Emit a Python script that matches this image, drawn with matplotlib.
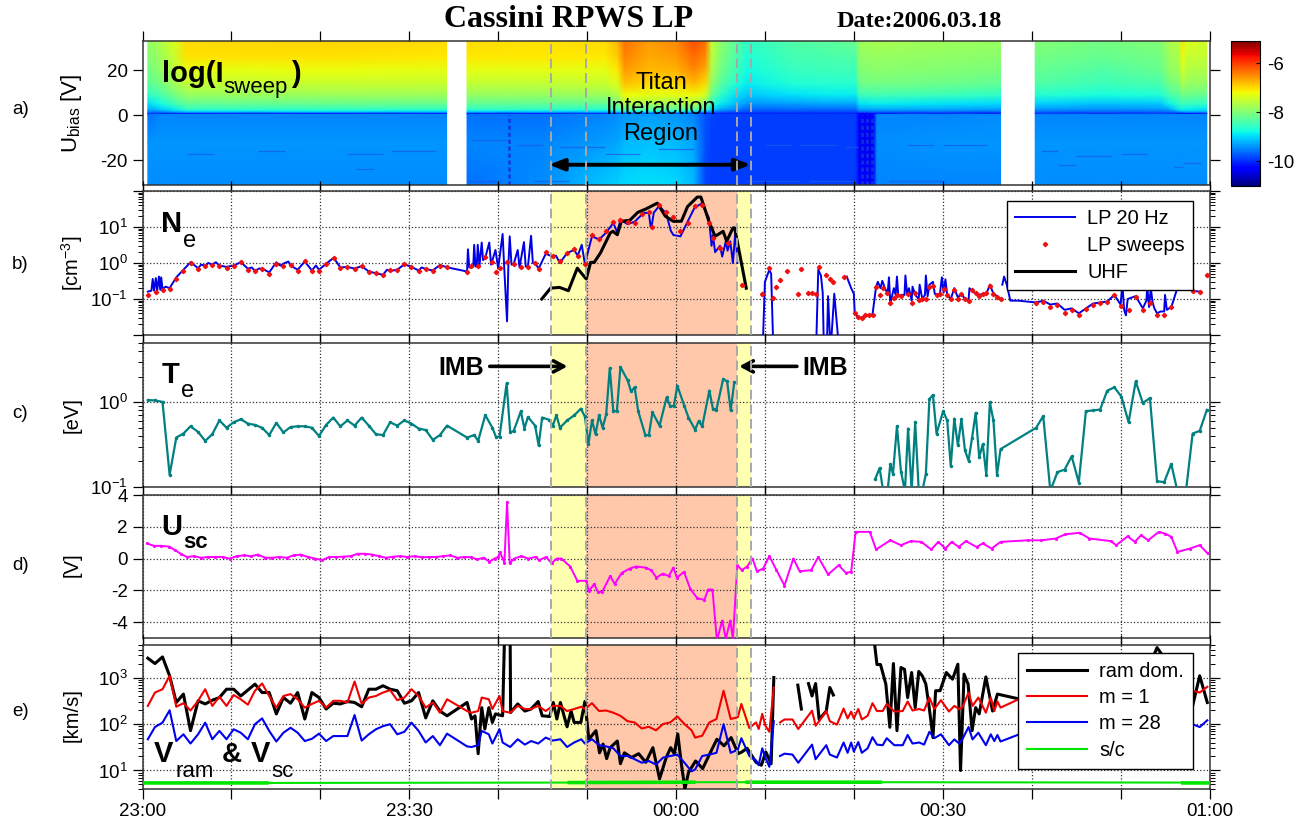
import matplotlib
matplotlib.use("Agg")
import matplotlib.pyplot as plt
import numpy as np
from matplotlib.ticker import FixedLocator, NullFormatter

plt.rcParams["font.family"] = ["Liberation Sans", "DejaVu Sans"]
plt.rcParams["mathtext.default"] = "regular"

W, H = 1308, 827
nan = np.nan

# time axis, minutes after 23:00
tick_minutes = [0, 30, 60, 90, 120]
tick_labels = ["23:00", "23:30", "00:00", "00:30", "01:00"]
boundaries = [45.9, 49.9, 66.9, 68.4]

# a) sweep current, log10(I), columns by time, rows by bias voltage
bias_rows = [33, 26, 20, 14, 9, 5, 2.5, 1.6, 1.1, 0.7, 0.3, -12, -31]
seg1_t = [0.6, 2.0, 3.5, 5, 20, 34.2]
seg1_i = [
    [-7.9, -7.7, -7.4, -7.0, -6.95, -7.0],
    [-8.0, -7.8, -7.5, -7.05, -7.05, -7.1],
    [-8.1, -7.9, -7.6, -7.3, -7.25, -7.3],
    [-8.3, -8.1, -7.8, -7.55, -7.5, -7.5],
    [-8.6, -8.4, -8.1, -7.85, -7.8, -7.8],
    [-9.0, -8.8, -8.5, -8.25, -8.2, -8.2],
    [-9.3, -9.1, -8.9, -8.6, -8.6, -8.6],
    [-9.5, -9.4, -9.2, -9.0, -8.9, -8.95],
    [-9.6, -9.6, -9.5, -9.4, -9.4, -9.4],
    [-10.0, -10.1, -10.1, -10.1, -10.1, -10.1],
    [-9.6, -9.5, -9.5, -9.5, -9.5, -9.5],
    [-9.4, -9.4, -9.4, -9.4, -9.4, -9.4],
    [-9.45, -9.45, -9.45, -9.45, -9.45, -9.45],
]
seg2_t = [36.5, 45, 52, 53.4, 54.2, 57, 60, 62, 63.3, 64, 65, 66.8, 68, 73, 77, 80.2, 80.6, 82.2, 82.6, 90, 96.5]
seg2_i = [
    [-7.0, -7.05, -7.0, -6.8, -6.35, -6.6, -6.5, -6.1, -6.3, -7.5, -7.9, -8.3, -8.6, -8.35, -8.3, -8.2, -7.8, -7.75, -7.75, -7.8, -7.85],
    [-7.1, -7.1, -7.1, -6.9, -6.45, -6.7, -6.6, -6.3, -6.5, -7.6, -8.0, -8.4, -8.7, -8.45, -8.4, -8.35, -7.9, -7.85, -7.85, -7.9, -7.95],
    [-7.3, -7.3, -7.3, -7.1, -6.6, -6.8, -6.75, -6.5, -6.7, -7.7, -8.1, -8.5, -8.8, -8.55, -8.5, -8.5, -8.0, -7.95, -7.95, -8.0, -8.05],
    [-7.55, -7.55, -7.5, -7.35, -6.85, -7.0, -7.0, -6.8, -7.0, -7.9, -8.3, -8.7, -8.9, -8.7, -8.65, -8.65, -8.15, -8.1, -8.1, -8.15, -8.25],
    [-7.85, -7.85, -7.8, -7.7, -7.2, -7.3, -7.3, -7.2, -7.4, -8.2, -8.6, -8.95, -9.1, -8.95, -8.9, -8.9, -8.5, -8.45, -8.45, -8.5, -8.6],
    [-8.25, -8.25, -8.25, -8.1, -7.7, -7.75, -7.8, -7.7, -8.0, -8.6, -8.9, -9.2, -9.4, -9.35, -9.3, -9.3, -8.95, -8.9, -8.9, -8.95, -9.0],
    [-8.6, -8.6, -8.65, -8.5, -8.3, -8.3, -8.3, -8.3, -8.6, -9.0, -9.3, -9.5, -9.7, -9.65, -9.65, -9.65, -9.35, -9.3, -9.3, -9.3, -9.35],
    [-8.95, -9.0, -9.0, -8.9, -8.8, -8.8, -8.8, -8.9, -9.1, -9.4, -9.6, -9.7, -9.8, -9.8, -9.8, -9.8, -9.6, -9.55, -9.55, -9.55, -9.6],
    [-9.4, -9.4, -9.4, -9.4, -9.3, -9.3, -9.3, -9.4, -9.6, -9.7, -9.8, -9.85, -9.9, -9.9, -9.9, -9.9, -9.85, -9.8, -9.8, -9.8, -9.85],
    [-10.1, -10.1, -10.0, -10, -9.9, -9.8, -9.9, -10, -10.2, -10.1, -10.1, -10.1, -10.1, -10.1, -10.1, -10.1, -10.3, -10.2, -10.2, -10.1, -10.2],
    [-9.6, -9.6, -9.5, -9.45, -9.4, -9.35, -9.4, -9.5, -9.8, -9.85, -9.9, -9.9, -9.9, -9.9, -9.9, -9.9, -10.3, -10.3, -9.5, -9.5, -9.45],
    [-9.5, -9.5, -9.35, -9.3, -9.2, -9.15, -9.2, -9.3, -9.8, -9.9, -9.9, -9.9, -9.9, -9.9, -9.9, -9.9, -10.4, -10.4, -9.45, -9.4, -9.4],
    [-9.6, -9.45, -9.1, -9.05, -9.0, -8.95, -9.0, -9.2, -9.85, -9.9, -9.9, -9.9, -9.9, -9.9, -9.9, -9.9, -10.3, -10.3, -9.5, -9.5, -9.5],
]
seg3_t = [100.4, 108, 114.5, 115.5, 116.6, 117, 117.4, 119.7]
seg3_i = [
    [-8.0, -8.1, -8.0, -7.7, -7.6, -7.05, -7.35, -7.45],
    [-8.1, -8.2, -8.1, -7.8, -7.7, -7.2, -7.5, -7.55],
    [-8.2, -8.35, -8.2, -7.9, -7.8, -7.4, -7.65, -7.7],
    [-8.35, -8.5, -8.4, -8.1, -8.0, -7.7, -7.85, -7.9],
    [-8.65, -8.75, -8.7, -8.4, -8.3, -8.1, -8.15, -8.2],
    [-9.05, -9.15, -9.1, -8.85, -8.6, -8.5, -8.55, -8.6],
    [-9.4, -9.45, -9.4, -9.3, -8.9, -8.85, -8.9, -8.95],
    [-9.6, -9.6, -9.6, -9.55, -9.3, -9.2, -9.2, -9.2],
    [-9.75, -9.8, -9.75, -9.75, -9.6, -9.5, -9.5, -9.5],
    [-10.0, -10.1, -10, -10, -10.2, -10.3, -10.3, -10.2],
    [-9.5, -9.5, -9.5, -9.5, -9.5, -9.5, -9.5, -9.5],
    [-9.4, -9.4, -9.4, -9.4, -9.4, -9.4, -9.4, -9.4],
    [-9.45, -9.45, -9.45, -9.45, -9.45, -9.45, -9.45, -9.45],
]
streak_t0 = [5, 13, 23, 28, 24, 37, 42, 47, 52, 58, 70, 74, 79, 86, 90, 36.5, 44, 68, 75, 84, 101, 105, 110, 103, 116, 117]
streak_t1 = [8, 16, 27, 33, 26, 41, 45, 52, 56, 62, 73, 78, 80.5, 89, 95, 40, 48, 74, 80, 90, 103, 109, 113, 105, 117, 119]
streak_u = [-17, -16, -17, -16, -24, -11, -13, -14, -17, -15, -13, -13, -14, -13, -13, -29, -29, -29, -29, -29, -16, -18, -17, -22, -23, -21]
dark_bar_t = [41.2, 80.9, 81.5, 82.0]

# b) electron density
sweep_t = [0.6, 1.5, 2.25, 3.05, 3.8, 4.6, 5.4, 6.25, 7.05, 7.85, 8.65, 9.45, 10.25, 11.05, 11.85, 12.65, 13.45, 14.25, 15.05, 15.85, 16.65, 17.45, 18.25, 19.05, 19.85, 20.65, 21.5, 22.25, 23.05, 23.85, 24.65, 25.45, 26.25, 27.05, 27.85, 28.65, 29.45, 30.25, 31.05, 31.85, 32.65, 33.45, 34.25, 36.5, 37, 37.75, 38.55, 39.35, 39.75, 40.15, 40.95, 41.75, 42.55, 43.35, 44.15, 44.55, 45.35, 46.15, 46.95, 47.75, 48.55, 48.95, 49.75, 50.55, 51.35, 52.15, 52.95, 53.75, 54.55, 55.35, 56.15, 56.95, 57.3, 58.1, 58.9, 59.7, 60.5, 61.3, 62.1, 62.9, 63.7, 64.15, 64.95, 65.8, 67.4,
           69.7, 70.5, 70.9, 71.3, 71.7, 72.5, 73.7, 74.1, 74.9, 75.3, 75.7, 76.1, 76.9, 77.3, 77.7, 78.9, 80.1, 80.5, 80.9, 81.3, 81.7, 82.1, 82.5, 82.9, 83.3, 83.7, 84.1, 84.5, 84.9, 85.3, 86.1, 86.5, 86.9, 87.3, 87.7, 88.1, 88.5, 88.9, 89.3, 89.7, 90.1, 90.5, 90.9, 91.3, 91.7, 92.1, 92.5, 92.9, 93.3, 93.7, 94.1, 94.5, 94.9, 95.3, 95.7, 96.1, 96.5,
           100.5, 101.3, 102.1, 102.9, 103.7, 104.5, 105.3, 106.1, 106.9, 107.7, 108.5, 109.3, 110.1, 110.9, 111.7, 112.5, 113.3, 114.1, 114.9, 115.7, 118.1, 118.9, 119.7]
sweep_n = [.13, .16, .18, .19, .36, .61, 1.02, .68, .82, .86, .81, .71, .81, 1.04, .65, .59, .67, .49, .94, .84, .88, .61, 1.11, .61, .61, .92, 1.35, .73, .77, .68, .81, .56, .52, .47, .64, .64, .92, .76, .61, .69, .61, .84, .76, .57, .84, .84, 1.43, 1.04, .55, .73, 1.04, .92, .79, .79, 1.0, .69, 2.06, 1.6, 1.11, 1.9, 2.5, 1.6, .96, 6.1, 4.6, 7.6, 13.8, 15.3, 13.8, 13, 23.5, 25.5, 9.8, 41.8, 25.5, 18.6, 7.6, 13, 39, 41.8, 13, 4.9, 2.6, 3.6, .25,
           .135, .72, .11, .21, .33, .6, .135, .69, .143, .143, .135, .77, .47, .36, .29, .41, .04, .031, .03, .035, .036, .037, .22, .13, .2, .15, .075, .105, .13, .12, .135, .075, .15, .092, .1, .1, .22, .23, .13, .135, .19, .13, .1, .175, .1, .135, .1, .09, .175, .145, .125, .135, .145, .23, .135, .115, .1,
           .075, .085, .06, .07, .042, .05, .035, .052, .07, .075, .08, .13, .062, .05, .115, .05, .075, .035, .037, .06, .17, .16, .46]
lp20_t = [0.6, 1.0, 1.15, 1.3, 1.5, 1.65, 1.85, 2.0, 2.1, 2.25, 2.6, 3.05, 3.8, 4.6, 5.4, 6.25, 6.6, 7.05, 7.4, 7.85, 8.25, 8.65, 9.45, 10.25, 11.05, 11.85, 12.3, 12.65, 13.1, 13.45, 14.25, 15.05, 15.5, 16.0, 16.4, 16.65, 17.45, 18.25, 19.05, 19.5, 19.85, 20.65, 21.5, 22.25, 23.05, 23.85, 24.65, 25.45, 26.25, 27.05, 27.5, 27.85, 28.65, 29.45, 30.25, 31.05, 31.4, 31.85, 32.65, 33.45, 34.25,
          36.5, 36.6, 36.75, 37.2, 37.3, 37.45, 37.6, 37.7, 37.9, 38.15, 38.3, 38.55, 39, 39.2, 39.7, 40, 40.5, 40.7, 41, 41.15, 41.3, 41.5, 41.75, 42.2, 42.4, 42.9, 43.1, 43.35, 43.7, 43.9, 44.15, 44.55, 45.35, 46.15, 46.5, 46.95, 47.75, 48.55, 48.95, 49.4, 49.75, 50.55, 51.35, 52.15, 52.95, 53.4, 53.75, 54.55, 55.35, 56.15, 56.5, 56.95, 57.15, 57.3, 57.5, 58.1, 58.9, 59.4, 59.7, 60.5, 61.3, 62.1, 62.9, 63.7, 64.0, 64.15, 64.4, 64.95, 65.2, 65.6, 65.8, 66.1, 66.4, 66.7, 66.9, nan,
          69.8, 70, 70.5, 70.7, 70.9, nan, 75.8, 76, 76.3, 76.5, 76.6, nan, 77, 77.1, 77.3, nan, 77.5, 77.8, 78.2, nan,
          79.2, 79.7, 80, 80.1, 80.5, 80.9, 81.3, 81.7, 82.1, 82.5, 82.7, 83, 83.2, 83.5, 83.8, 83.95, 84.1, 84.5, 84.7, 84.85, 85, 85.3, 85.7, 85.8, 86.0, 86.2, 86.5, 86.6, 86.9, 87.3, 87.4, 87.7, 88, 88.1, 88.3, 88.5, 88.9, 89.1, 89.5, 89.7, 89.9, 90.1, 90.3, 90.5, 90.9, 91.3, 91.7, 92.1, 92.5, 92.9, 93, 93.3, 93.7, 94.1, 94.5, 94.9, 95.3, 95.7, 96.1, 96.5, nan,
          96.7, 96.9, 97.2, 97.6, 98.5, 99.5, 100.5, 101.3, 102.1, 102.9, 103.7, 104.5, 105.3, 106.1, 106.9, 107.7, 108.5, 109.3, 110, 110.2, 110.4, 110.6, 110.8, 111.7, 112.5, 112.9, 113, 113.2, 113.4, 113.6, 113.8, 114.1, 114.5, 114.9, 115, 115.2, 115.7, 116, 116.5, 117, 117.8, 118.1, 118.9]
lp20_n = [.16, .17, .36, .17, .38, .17, .42, .18, .4, .19, .22, .2, .4, .65, 1.05, .72, .9, .85, 1.0, .9, 1.05, .85, .78, .85, 1.05, .7, .75, .6, .7, .7, .55, 1.05, .85, 1.0, 1.1, .85, .65, 1.1, .62, .85, .65, .95, 1.4, .75, .78, .7, .82, .58, .52, .47, .65, .6, .65, .92, .78, .62, .75, .68, .62, .88, .76,
          .58, 2.4, .75, .8, 3.2, .8, .8, 3.2, .85, 3.7, 1.2, 1.4, 3.7, .9, 2.3, .7, 6.4, .6, .024, .9, 5.5, .9, .95, 2.3, .75, 3.8, .8, .8, 5.7, 1.0, 1.0, .7, 1.8, 1.5, 1.6, 1.0, 1.9, 2.3, 1.6, 3.2, .95, 5.5, 4.5, 7, 13, 7, 16, 12, 14, 22, 25, 24, 10, 12, 25, 38, 24, 8, 6, 5.5, 14, 35, 45, 18, 3, 6, 2, 3, 1.5, 4, 2.2, 4, 1, 9, 1, nan,
          .01, .3, .65, .5, .01, nan, .01, .65, .45, .15, .01, nan, .01, .12, .01, nan, .01, .14, .01, nan,
          .42, .2, .14, .04, .031, .03, .035, .036, .037, .22, .3, .2, .32, .2, .14, .4, .075, .2, .13, .42, .12, .13, .13, .45, .13, .2, .09, .22, .13, .1, .25, .1, .13, .45, .12, .25, .3, .14, .13, .15, .4, .15, .35, .13, .1, .2, .11, .14, .1, .09, .2, .17, .14, .13, .14, .14, .25, .14, .12, .1, nan,
          .25, .42, .25, .09, .09, .085, .08, .09, .07, .075, .05, .055, .04, .055, .075, .08, .085, .13, .07, .25, .05, .035, .1, .12, .055, .09, .22, .06, .2, .08, .055, .04, .045, .045, .13, .05, .06, .1, .25, .4, .22, .17, .16]
uhf_t = [44.9, 45.9, 46.9, 47.9, 48.9, 49.9, 50.4, 50.8, 51.5, 52.6, 52.9, 53.4, 53.85, 54.8, 55.7, 56.6, 57.9, 58.8, 59.7, 60.6, 61.3, 62.4, 62.8, 63.7, 64.4, 65.3, 65.7, 66.4, 66.6, 67.9]
uhf_n = [.1, .2, .21, .17, .72, .36, 1.04, 1.04, 1.9, 6.8, 7.6, 6.1, 14.4, 15.3, 25.5, 31.6, 46, 20, 14.4, 14.4, 37, 68, 68, 14.4, 5.5, 7.6, 4, 9.4, 9.4, .2]

# c) electron temperature
te_t = [0.6, 1.4, 2.25, 3.05, 3.8, 4.6, 5.4, 6.25, 7.05, 7.85, 8.65, 9.45, 10.25, 11.05, 11.85, 12.65, 13.45, 14.25, 15.05, 15.85, 16.65, 17.45, 18.25, 19.05, 19.85, 20.65, 21.45, 22.25, 23.05, 23.85, 24.65, 25.45, 26.25, 27.05, 27.85, 28.65, 29.45, 30.25, 31.05, 31.85, 32.65, 33.45, 34.25, 36.5, 37.3, 37.75, 38.55, 39.35, 39.75, 40.15, 40.95, 41.35, 41.75, 42.55, 42.95, 43.35, 44.15, 44.55, 44.95, 45.75, 46.15, 46.55, 46.95, 47.75, 48.55, 49.3, 49.75, 50.15, 50.55, 50.95, 51.35, 51.75, 52.15, 52.55, 52.95, 53.35, 53.75, 54.55, 54.95, 55.35, 55.75, 56.55, 56.95, 57.35, 58.15, 58.95, 59.35, 59.75, 60.15, 60.95, 61.4, 62.15, 62.55, 62.95, 63.75, 64.15, 64.55, 65.3, 65.75, 66.15, 66.55,
        nan, 82.4, 82.9, 83.3, 83.8, 84.1, 84.4, 84.85, 85.3, 85.75, 86.1, 86.5, 86.9, 87.3, 87.7, 88.1, 88.5, 88.9, 89.3, 90.05, 90.5, 90.9, 91.3, 91.7, 92.1, 92.5, 92.9, 93.3, 93.7, 94.1, 94.5, 94.9, 95.3, 95.7, 96.1, 96.5, 100.5, 101.3, 102.1, 102.9, 103.7, 104.5, 105.3, 106.1, 106.9, 107.7, 108.5, 109.3, 110.1, 110.9, 111.7, 112.5, 113.3, 114.1, 114.9, 115.7, 116.5, 117.3, 118.1, 118.9, 119.7]
te_ev = [1.06, 1.05, 1.01, .139, .383, .427, .52, .447, .35, .42, .61, .50, .58, .63, .56, .54, .50, .41, .57, .44, .51, .52, .52, .50, .40, .54, .66, .52, .61, .53, .66, .53, .42, .41, .58, .53, .61, .56, .49, .47, .36, .41, .53, .383, .41, .35, .705, .50, .39, .39, 1.67, .44, .46, .78, .49, .67, .53, .31, .66, .62, .53, .705, .50, .61, .70, .84, .68, .32, .61, .42, .70, .50, .72, 2.52, .785, .785, 2.61, 1.82, 1.34, 1.5, .785, .41, .41, .76, .53, 1.14, .90, .90, 1.56, .90, .66, .475, .60, .52, 1.37, .84, .82, 1.87, 1.76, .80, 1.71,
         nan, .124, .167, .09, .09, .186, .143, .52, .152, .09, .49, .09, .58, .09, .09, .142, 1.09, 1.22, .427, .785, .61, .177, .64, .31, .63, .27, .205, .383, .75, .224, .32, .139, 1.0, .61, .139, .28, .50, .686, .09, .15, .16, .23, .113, .785, .80, .82, 1.37, 1.5, 1.16, .58, 1.76, .98, 1.12, .117, .114, .187, .08, .08, .427, .46, .81]

# d) spacecraft potential
usc_t = [0.5, 1.3, 2.1, 3, 3.6, 4.3, 5, 5.8, 6.6, 7.4, 8.2, 9, 9.8, 10.6, 11.4, 12.2, 13, 13.8, 14.6, 15.4, 16.2, 17, 17.8, 18.6, 19.4, 20.2, 21, 21.8, 22.6, 23.4, 24.2, 25, 25.8, 26.6, 27.4, 28.2, 29, 29.8, 30.6, 31.4, 32.2, 33, 33.8, 34.6, 35.4, 36.2, 37, 37.6, 38.4, 39, 39.6, 40, 40.2, 40.7, 41, 41.3, 41.8, 42.6, 43.4, 44.2, 44.6, 45.4, 46, 46.6, 47.1, 48.1, 48.9, 49.9, 50.2, 50.8, 51.2, 51.7, 52.6, 53.1, 53.9, 54.8, 55.5, 56.6, 57.2, 57.8, 58.5, 59.2, 59.7, 60.1, 60.9, 61.6, 62.4, 63.2, 63.6, 64.1, 64.6, 65.2, 65.6, 66.1, 66.4, 66.9, 67.4, 68, 68.6, 69.1, 69.8, 70.5, 71.3, 72.2, 73.2, 73.9, 75.2, 76, 77.1, 78.3, 79.1, 79.7, 80.2, 81.8, 82.5, 84.1, 85.3, 86.4, 87.6, 88.7, 89.5, 90.3, 91, 91.8, 92.6, 93.8, 94.5, 95.5, 96.5, 99.6, 101.1, 102.7, 103.8, 105.4, 106.5, 108.9, 109.5, 110.8, 111.6, 112.3, 113.1, 114.3, 115, 115.7, 116.4, 117.8, 118.9, 119.8]
usc_v = [.95, .8, .8, .75, .55, .3, .1, .15, .05, .1, .1, .1, 0, .15, .2, .15, .25, .05, .05, .1, .05, .2, .25, .1, 0, -.1, .1, .1, .12, .15, .3, .3, .25, .15, .05, .12, .15, .1, .15, .08, .1, .1, .15, .2, .05, .1, .08, -.05, .05, -.2, 0, .1, .4, -.25, 3.55, -.3, 0, .15, 0, .1, -.1, .1, -.3, 0, 0, -.5, -1.4, -1.4, -2.05, -1.6, -2.1, -2.1, -1.1, -1.6, -.9, -.63, -.5, -.57, -.73, -1.2, -.95, -1.1, -.57, -1.2, -.84, -1.9, -2.5, -2.6, -1.95, -1.95, -5.15, -3.9, -5.05, -3.9, -5.05, -.42, -.73, -.5, 0, -.8, -.63, .15, -.73, -1.7, 0, -.8, -.73, .1, -1, -.42, -.9, -.84, 1.68, 1.68, .57, 1.15, .84, 1.1, 1.05, .57, 1.05, .63, 1.05, .73, 1.1, .73, .95, .63, 1.05, 1.15, 1.15, 1.26, 1.53, 1.62, 1.26, 1.1, .84, 1.4, 1.05, 1.47, 1.15, 1.68, 1.57, 1.37, .42, .63, .84, .32]

# e) ram speeds
ram_t = [0.6, 1.4, 2.25, 3.05, 3.8, 4.6, 5.4, 6.25, 7.05, 7.85, 8.65, 9.45, 10.25, 11.05, 11.85, 12.65, 13.45, 14.25, 15.05, 15.85, 16.65, 17.45, 18.25, 19.05, 19.85, 20.65, 21.45, 22.25, 23.05, 23.85, 24.65, 25.45, 26.25, 27.05, 27.85, 28.65, 29.45, 30.25, 31.05, 31.85, 32.65, 33.45, 34.25, 36.5, 37, 37.4, 37.75, 38.15, 38.5, 38.95, 39.35, 39.7, 40.5, 40.7, 41.35, 41.4, 42.2, 43, 43.7, 44.5, 44.95, 45.8, 46.2, 46.6, 47, 47.75, 48.2, 48.55, 49.3, 49.75, 50.2, 51, 51.4, 51.8, 52.2, 52.6, 53.4, 53.75, 54.2, 55, 55.8, 56.6, 57.4, 58.15, 58.9, 59.4, 59.8, 60.2, 60.6, 61, 61.4, 62.2, 63, 63.8, 64.6, 65.4, 66.2, 67, 67.4, 68, 69, 69.6, 70.1, 70.7, 71, nan,
         73.7, 74.1, nan, 74.9, 75.3, 75.7, 76.1, 76.9, 77.3, 77.7, nan, 82.3, 82.6, 83, 83.6, 84.05, 84.45, 84.85, 85.3, 85.7, 86.05, 86.5, 86.9, 87.3, 87.7, 88.1, 88.5, 88.9, 89.2, 89.7, 90.4, 91.1, 91.7, 92, 92.4, 92.85, 93.3, 93.7, 94.1, 94.85, 95.6, 96.15, 98.6, 113, 113.8, 114.1, 114.6, 118.1, 118.9, 119.75]
ram_v = [2600, 1995, 2770, 1085, 290, 440, 72, 315, 270, 325, 370, 560, 560, 400, 535, 720, 475, 475, 165, 370, 280, 475, 128, 475, 370, 210, 280, 270, 305, 290, 235, 560, 560, 665, 560, 520, 280, 315, 475, 135, 315, 190, 150, 290, 128, 150, 23, 225, 78, 225, 108, 165, 150, 6000, 6000, 177, 270, 190, 210, 305, 150, 145, 290, 128, 290, 87, 190, 108, 108, 305, 47, 72, 24, 37, 18, 31, 43, 14, 24, 19, 23, 15, 31, 6.6, 19, 31, 23, 61, 14, 4, 9, 16, 11, 23, 47, 34, 51, 23, 25, 30, 15, 13, 25, 14, 1000, nan,
         685, 210, nan, 740, 400, 740, 125, 190, 610, 420, nan, 6000, 1900, 1900, 720, 85, 2000, 72, 1640, 1500, 370, 1280, 225, 1350, 1085, 720, 210, 51, 520, 520, 1280, 920, 1930, 10, 1180, 720, 72, 225, 165, 1030, 190, 440, 345, 350, 3200, 4400, 3200, 245, 1090, 290]
m1_t = [0.6, 1.4, 2.25, 3.05, 3.8, 4.6, 5.4, 6.25, 7.05, 7.85, 8.65, 9.45, 10.25, 11.05, 11.85, 12.65, 13.45, 14.25, 15.05, 15.85, 16.65, 17.45, 18.25, 19.05, 19.85, 20.65, 21.45, 22.25, 23.05, 23.85, 24.65, 25.45, 26.25, 27.05, 27.85, 28.65, 29.45, 30.25, 31.05, 31.85, 32.65, 33.45, 34.25, 36.5, 37, 37.75, 38.15, 38.95, 39.35, 40.15, 40.5, 41.35, 42.2, 43, 43.7, 44.5, 45.35, 46.15, 47, 47.75, 48.55, 49.35, 49.75, 50.55, 51.35, 52.15, 52.95, 53.75, 54.55, 55.35, 56.15, 56.95, 57.75, 58.55, 59.35, 60.15, 60.95, 61.75, 62.15, 62.95, 63.75, 64.55, 65.35, 66.15, 66.95, 67.35, 68.25, 69, 69.3, 69.7, 70.05, 70.5, 71, nan,
        71.7, 72.2, 73.1, 73.75, 75.3, 75.7, 76.1, 76.9, 77.3, 78.1, 78.85, 79.3, 79.7, 80, 80.5, 80.9, 81.55, 82.1, 82.6, 83.25, 83.7, 84.55, 85.5, 86.05, 86.6, 87.35, 87.9, 88.5, 89.05, 89.8, 90.7, 91.3, 91.85, 92.2, 92.9, 93.35, 94, 94.85, 95.4, 95.8, 96.15, 96.5, 98.6, 110, 118.1, 118.9, 119.75]
m1_v = [245, 475, 560, 1085, 235, 280, 195, 315, 560, 245, 385, 245, 420, 340, 260, 520, 745, 400, 225, 400, 440, 340, 225, 270, 315, 225, 315, 315, 290, 820, 270, 370, 400, 475, 535, 325, 370, 560, 400, 225, 290, 175, 340, 190, 175, 190, 370, 340, 210, 400, 190, 175, 245, 210, 210, 245, 190, 245, 245, 190, 210, 235, 210, 280, 190, 195, 175, 150, 115, 108, 80, 87, 73, 100, 108, 145, 100, 73, 51, 56, 108, 128, 520, 128, 140, 270, 82, 108, 78, 165, 92, 68, 610, nan,
        108, 125, 125, 78, 193, 92, 115, 190, 115, 97, 215, 132, 185, 132, 210, 125, 150, 280, 190, 190, 270, 185, 190, 305, 195, 210, 195, 370, 210, 325, 185, 245, 210, 225, 475, 245, 370, 175, 370, 190, 305, 225, 345, 350, 520, 475, 630]
m28_t = m1_t
m28_v = [47, 86, 107, 197, 43, 60, 38, 60, 107, 47, 71, 47, 77, 65, 47, 99, 132, 71, 42, 65, 83, 65, 43, 48, 62, 43, 55, 55, 55, 156, 44, 60, 77, 90, 99, 60, 68, 107, 71, 40, 55, 35, 62, 33, 32, 35, 71, 60, 38, 77, 40, 32, 47, 36, 43, 38, 51, 44, 47, 32, 40, 47, 38, 47, 35, 33, 30, 20.5, 20.5, 17.5, 14.7, 16, 13.4, 19, 20.5, 22, 14.7, 9.6, 10.5, 20.5, 22, 24, 99, 24, 28, 49.5, 20.5, 16.5, 13, 30, 19, 12, 115, nan,
         20.5, 23, 22, 14.7, 36, 17.5, 22, 35, 22, 19, 40, 24, 40, 25.5, 41, 24, 30, 52, 36, 35, 49.5, 35, 35, 58, 38, 40, 36, 68, 49.5, 60, 35, 46.6, 38, 46.6, 86, 46.6, 65, 35, 60, 43, 58, 42, 60, 70, 99, 86, 120]
sc_t = [0, 14, nan, 14, 48, nan, 48, 62, nan, 62, 68, nan, 68, 83, nan, 83, 117, nan, 117, 120]
sc_v = [5.4, 5.4, nan, 5.4, 5.5, nan, 5.5, 5.6, nan, 5.6, 5.6, nan, 5.6, 5.6, nan, 5.6, 5.5, nan, 5.4, 5.4]
sc_thick_t = [0, 14, nan, 48, 62, nan, 68, 83, nan, 117, 120]
sc_thick_v = [5.4, 5.4, nan, 5.5, 5.6, nan, 5.6, 5.6, nan, 5.4, 5.4]


def add_panel(top, bottom):
    ax = fig.add_axes([142.5 / W, 1 - bottom / H, 1067 / W, (bottom - top) / H])
    ax.set_xlim(0, 120)
    ax.set_xticks(np.arange(0, 121, 10))
    ax.set_xticklabels([])
    ax.tick_params(which="major", direction="out", top=True, right=True, length=7, width=0.9, labelsize=13.5)
    ax.tick_params(which="minor", direction="out", right=True, left=True, length=3.5, width=0.7)
    for s in ax.spines.values():
        s.set_color("#333333")
        s.set_linewidth(1.1)
    return ax


def style_panel(ax):
    ax.grid(True, which="major", linestyle=":", color="#333333", linewidth=0.9)
    ax.axvspan(boundaries[0], boundaries[1], color="#ffffb0", lw=0, zorder=0.5)
    ax.axvspan(boundaries[1], boundaries[2], color="#ffc8aa", lw=0, zorder=0.5)
    ax.axvspan(boundaries[2], boundaries[3], color="#ffffb0", lw=0, zorder=0.5)


def dash_lines(ax):
    for b in boundaries:
        ax.axvline(b, color="#a8a8a8", linestyle=(0, (5, 2.5)), linewidth=1.4, zorder=4)


def log_ticks(ax, decades, labels):
    ax.yaxis.set_major_locator(FixedLocator(decades))
    ax.set_yticklabels(labels)
    minor = [m * d for d in 10.0 ** np.arange(-3, 5) for m in range(2, 10)]
    ax.yaxis.set_minor_locator(FixedLocator(minor))
    ax.yaxis.set_minor_formatter(NullFormatter())


def px_text(x, y, s, size, weight="normal", **kw):
    fig.text(x / W, 1 - y / H, s, fontsize=size, fontweight=weight, **kw)


fig = plt.figure(figsize=(13.08, 8.27), dpi=100)

# a) spectrogram
ax_a = add_panel(41, 185)
ax_a.set_ylim(-31, 33)
ax_a.set_yticks([-20, 0, 20])
ax_a.set_yticklabels(["-20", "0", "20"])
for seg_t, seg_i in [(seg1_t, seg1_i), (seg2_t, seg2_i), (seg3_t, seg3_i)]:
    mesh = ax_a.pcolormesh(seg_t, bias_rows, np.array(seg_i), cmap="jet", vmin=-11, vmax=-5.1, shading="gouraud", rasterized=True)
ax_a.hlines(streak_u, streak_t0, streak_t1, color="#1a5ce8", linewidth=0.9, alpha=0.75)
ax_a.vlines(dark_bar_t, -31, 0, color="#0f35d8", linewidth=2.0, linestyle=(0, (1.5, 1)), alpha=0.85)
dash_lines(ax_a)
ax_a.annotate("", xy=(45.7, -22), xytext=(68.4, -22), arrowprops=dict(arrowstyle="<|-|>,head_length=0.9,head_width=0.35", color="black", lw=2.8, shrinkA=0, shrinkB=0))
for txt, y in zip(["Titan", "Interaction", "Region"], [83, 108, 134]):
    px_text(661, y, txt, 17, ha="center", va="center")
px_text(162, 82, "log(I", 21, "bold")
px_text(223, 93, "sweep", 16)
px_text(291, 82, ")", 21, "bold")

# colour bar
cax = fig.add_axes([1231 / W, 1 - 185.5 / H, 29 / W, 144.5 / H])
cb = fig.colorbar(mesh, cax=cax)
cb.set_ticks([-10, -8, -6])
cb.set_ticklabels(["-10", "-8", "-6"])
cax.tick_params(direction="in", length=3, labelsize=13.5, pad=5)

# b) density
ax_b = add_panel(191, 335)
ax_b.set_yscale("log")
ax_b.set_ylim(0.01, 100)
ax_b.set_xlim(0, 120)
log_ticks(ax_b, [0.01, 0.1, 1, 10, 100], ["", "$10^{-1}$", "$10^{0}$", "$10^{1}$", ""])
style_panel(ax_b)
ax_b.plot(lp20_t, lp20_n, color="#0000e6", linewidth=1.4, label="LP 20 Hz", zorder=3)
ax_b.plot(sweep_t, sweep_n, linestyle="none", marker="D", markersize=2.2, color="#f01010", label="LP sweeps", zorder=5)
ax_b.plot(uhf_t, uhf_n, color="black", linewidth=2.2, label="UHF", zorder=4)
dash_lines(ax_b)
ax_b.legend(loc="upper right", bbox_to_anchor=(1050.5 / 1067, 134.5 / 144), fontsize=14.4, frameon=True, framealpha=1, fancybox=False, edgecolor="black", borderaxespad=0, handlelength=3, handletextpad=0.6, labelspacing=0.42, borderpad=0.4).set_zorder(10)
px_text(161, 232, "N", 21, "bold")
px_text(183, 247, "e", 17)

# c) temperature
ax_c = add_panel(343, 487)
ax_c.set_yscale("log")
ax_c.set_ylim(0.1, 5)
ax_c.set_xlim(0, 120)
log_ticks(ax_c, [0.1, 1], ["$10^{-1}$", "$10^{0}$"])
style_panel(ax_c)
ax_c.plot(te_t, te_ev, color="#008080", linewidth=1.6, marker=".", markersize=3, zorder=3)
dash_lines(ax_c)
ax_c.annotate("", xy=(47.8, 2.65), xytext=(39.05, 2.65), arrowprops=dict(arrowstyle="->,head_length=0.75,head_width=0.4", color="black", lw=2.6, shrinkA=0, shrinkB=0))
ax_c.annotate("", xy=(67.1, 2.65), xytext=(73.6, 2.65), arrowprops=dict(arrowstyle="->,head_length=0.75,head_width=0.4", color="black", lw=2.6, shrinkA=0, shrinkB=0))
px_text(438, 375, "IMB", 18, "bold")
px_text(802, 375, "IMB", 18, "bold")
px_text(162, 383, "T", 21, "bold")
px_text(181, 397, "e", 17)

# d) potential
ax_d = add_panel(495, 638)
ax_d.set_ylim(-5, 4)
ax_d.set_yticks([-4, -2, 0, 2, 4])
ax_d.set_yticklabels(["-4", "-2", "0", "2", "4"])
ax_d.set_xlim(0, 120)
style_panel(ax_d)
ax_d.plot(usc_t, usc_v, color="#ff00ff", linewidth=1.4, marker=".", markersize=2.5, zorder=3)
dash_lines(ax_d)
px_text(161, 535, "U", 21, "bold")
px_text(183, 548, "sc", 16, "bold")

# e) speeds
ax_e = add_panel(645, 789)
ax_e.set_yscale("log")
ax_e.set_ylim(4, 5000)
ax_e.set_xlim(0, 120)
log_ticks(ax_e, [10, 100, 1000], ["$10^{1}$", "$10^{2}$", "$10^{3}$"])
ax_e.set_xticks(np.arange(0, 121, 10))
ax_e.set_xticklabels([tick_labels[tick_minutes.index(m)] if m in tick_minutes else "" for m in range(0, 121, 10)])
ax_e.tick_params(axis="x", pad=3)
style_panel(ax_e)
ax_e.plot(ram_t, ram_v, color="black", linewidth=2.2, label="ram dom.", zorder=3)
ax_e.plot(m1_t, m1_v, color="#f00000", linewidth=1.5, label="m = 1", zorder=3.2)
ax_e.plot(m28_t, m28_v, color="#0000f0", linewidth=1.5, label="m = 28", zorder=3.2)
ax_e.plot(sc_t, sc_v, color="#00e600", linewidth=1.5, label="s/c", zorder=3.3)
ax_e.plot(sc_thick_t, sc_thick_v, color="#00e600", linewidth=2.6, zorder=3.3)
dash_lines(ax_e)
ax_e.legend(loc="upper right", bbox_to_anchor=(1050.5 / 1067, 136 / 144), fontsize=14.4, frameon=True, framealpha=1, fancybox=False, edgecolor="black", borderaxespad=0, handlelength=3, handletextpad=0.6, labelspacing=0.36, borderpad=0.45).set_zorder(10)
px_text(154, 762, "V", 21, "bold")
px_text(175, 777, "ram", 16)
px_text(222, 762, "&", 20, "bold")
px_text(251, 762, "V", 21, "bold")
px_text(271, 777, "sc", 16)

# axis names and panel letters
for name, y, size in zip(["$U_{bias}$ [V]", "[cm$^{-3}$]", "[eV]", "[V]", "[km/s]"], [113, 263, 415, 565, 715], [16, 14.5, 14.5, 14.5, 14.5]):
    fig.text(72 / W, 1 - y / H, name, fontsize=size, rotation=90, ha="center", va="center")
for letter, y in zip(["a)", "b)", "c)", "d)", "e)"], [110, 264, 413, 565, 712]):
    fig.text(12 / W, 1 - y / H, letter, fontsize=13.5, va="center")

fig.text(569 / W, 1 - 27 / H, "Cassini RPWS LP", fontsize=23, fontweight="bold", family="Liberation Serif", ha="center")
fig.text(919 / W, 1 - 27 / H, "Date:2006.03.18", fontsize=17.5, fontweight="bold", family="Liberation Serif", ha="center")

fig.savefig("out.png", dpi=100)
